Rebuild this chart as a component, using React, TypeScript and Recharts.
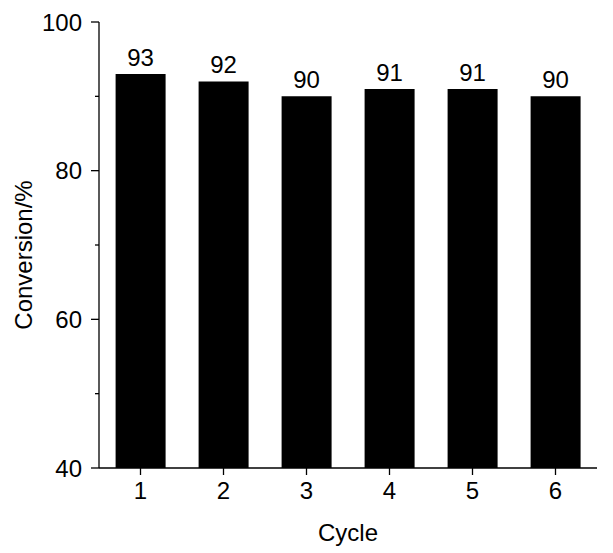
import React from 'react';
import { BarChart, Bar, XAxis, YAxis, LabelList } from 'recharts';

const cycles = ['1', '2', '3', '4', '5', '6'];
const conversion = [93, 92, 90, 91, 91, 90];
const yTicks = [40, 50, 60, 70, 80, 90, 100];
const yLabeled = [40, 60, 80, 100];

const data = cycles.map((c, i) => ({ cycle: c, value: conversion[i] }));

const FONT = '"Liberation Sans", Arial, Helvetica, sans-serif';
const FS = 24;
const Y_TICK_SIZE = 8;
const Y_TICK_MARGIN = 9;

const YTick = (props: any) => {
  const { x, y, payload } = props;
  const axisX = x + Y_TICK_SIZE + Y_TICK_MARGIN;
  const major = yLabeled.includes(payload.value);
  return (
    <g>
      <line x1={axisX} x2={axisX - (major ? Y_TICK_SIZE : 4)} y1={y} y2={y} stroke="#000" strokeWidth={1.3} />
      {major && (
        <text x={x} y={y} dy="0.36em" textAnchor="end" fill="#000" fontSize={FS} fontFamily={FONT}>
          {payload.value}
        </text>
      )}
    </g>
  );
};

const YLabel = (props: any) => {
  const vb = props.viewBox || { x: 0, y: 22, width: 99, height: 446 };
  const cx = vb.x + 23;
  const cy = vb.y + vb.height / 2 + 10;
  return (
    <text x={cx} y={cy} transform={`rotate(-90 ${cx} ${cy})`} textAnchor="middle" dominantBaseline="central" fill="#000" fontSize={FS} fontFamily={FONT}>
      Conversion/%
    </text>
  );
};

export default function App() {
  return (
    <div style={{ position: 'absolute', left: 0, top: 0, background: '#fff' }}>
      <BarChart
        width={613}
        height={553}
        data={data}
        margin={{ top: 22, right: 16, bottom: 0, left: 0 }}
        barCategoryGap="20%"
      >
        <XAxis
          dataKey="cycle"
          height={85}
          tickSize={7}
          tickMargin={7}
          axisLine={{ stroke: '#000', strokeWidth: 1.3 }}
          tickLine={{ stroke: '#000', strokeWidth: 1.3 }}
          tick={{ fill: '#000', fontSize: FS, fontFamily: FONT }}
          label={{ value: 'Cycle', position: 'insideBottom', offset: 12, fill: '#000', fontSize: FS, fontFamily: FONT }}
        />
        <YAxis
          width={99}
          domain={[40, 100]}
          ticks={yTicks}
          interval={0}
          allowDataOverflow
          tickSize={Y_TICK_SIZE}
          tickMargin={Y_TICK_MARGIN}
          tickLine={false}
          axisLine={{ stroke: '#000', strokeWidth: 1.3 }}
          tick={<YTick />}
          label={<YLabel />}
        />
        <Bar dataKey="value" fill="#000" isAnimationActive={false}>
          <LabelList dataKey="value" position="top" offset={8} fill="#000" fontSize={FS} fontFamily={FONT} />
        </Bar>
      </BarChart>
    </div>
  );
}
